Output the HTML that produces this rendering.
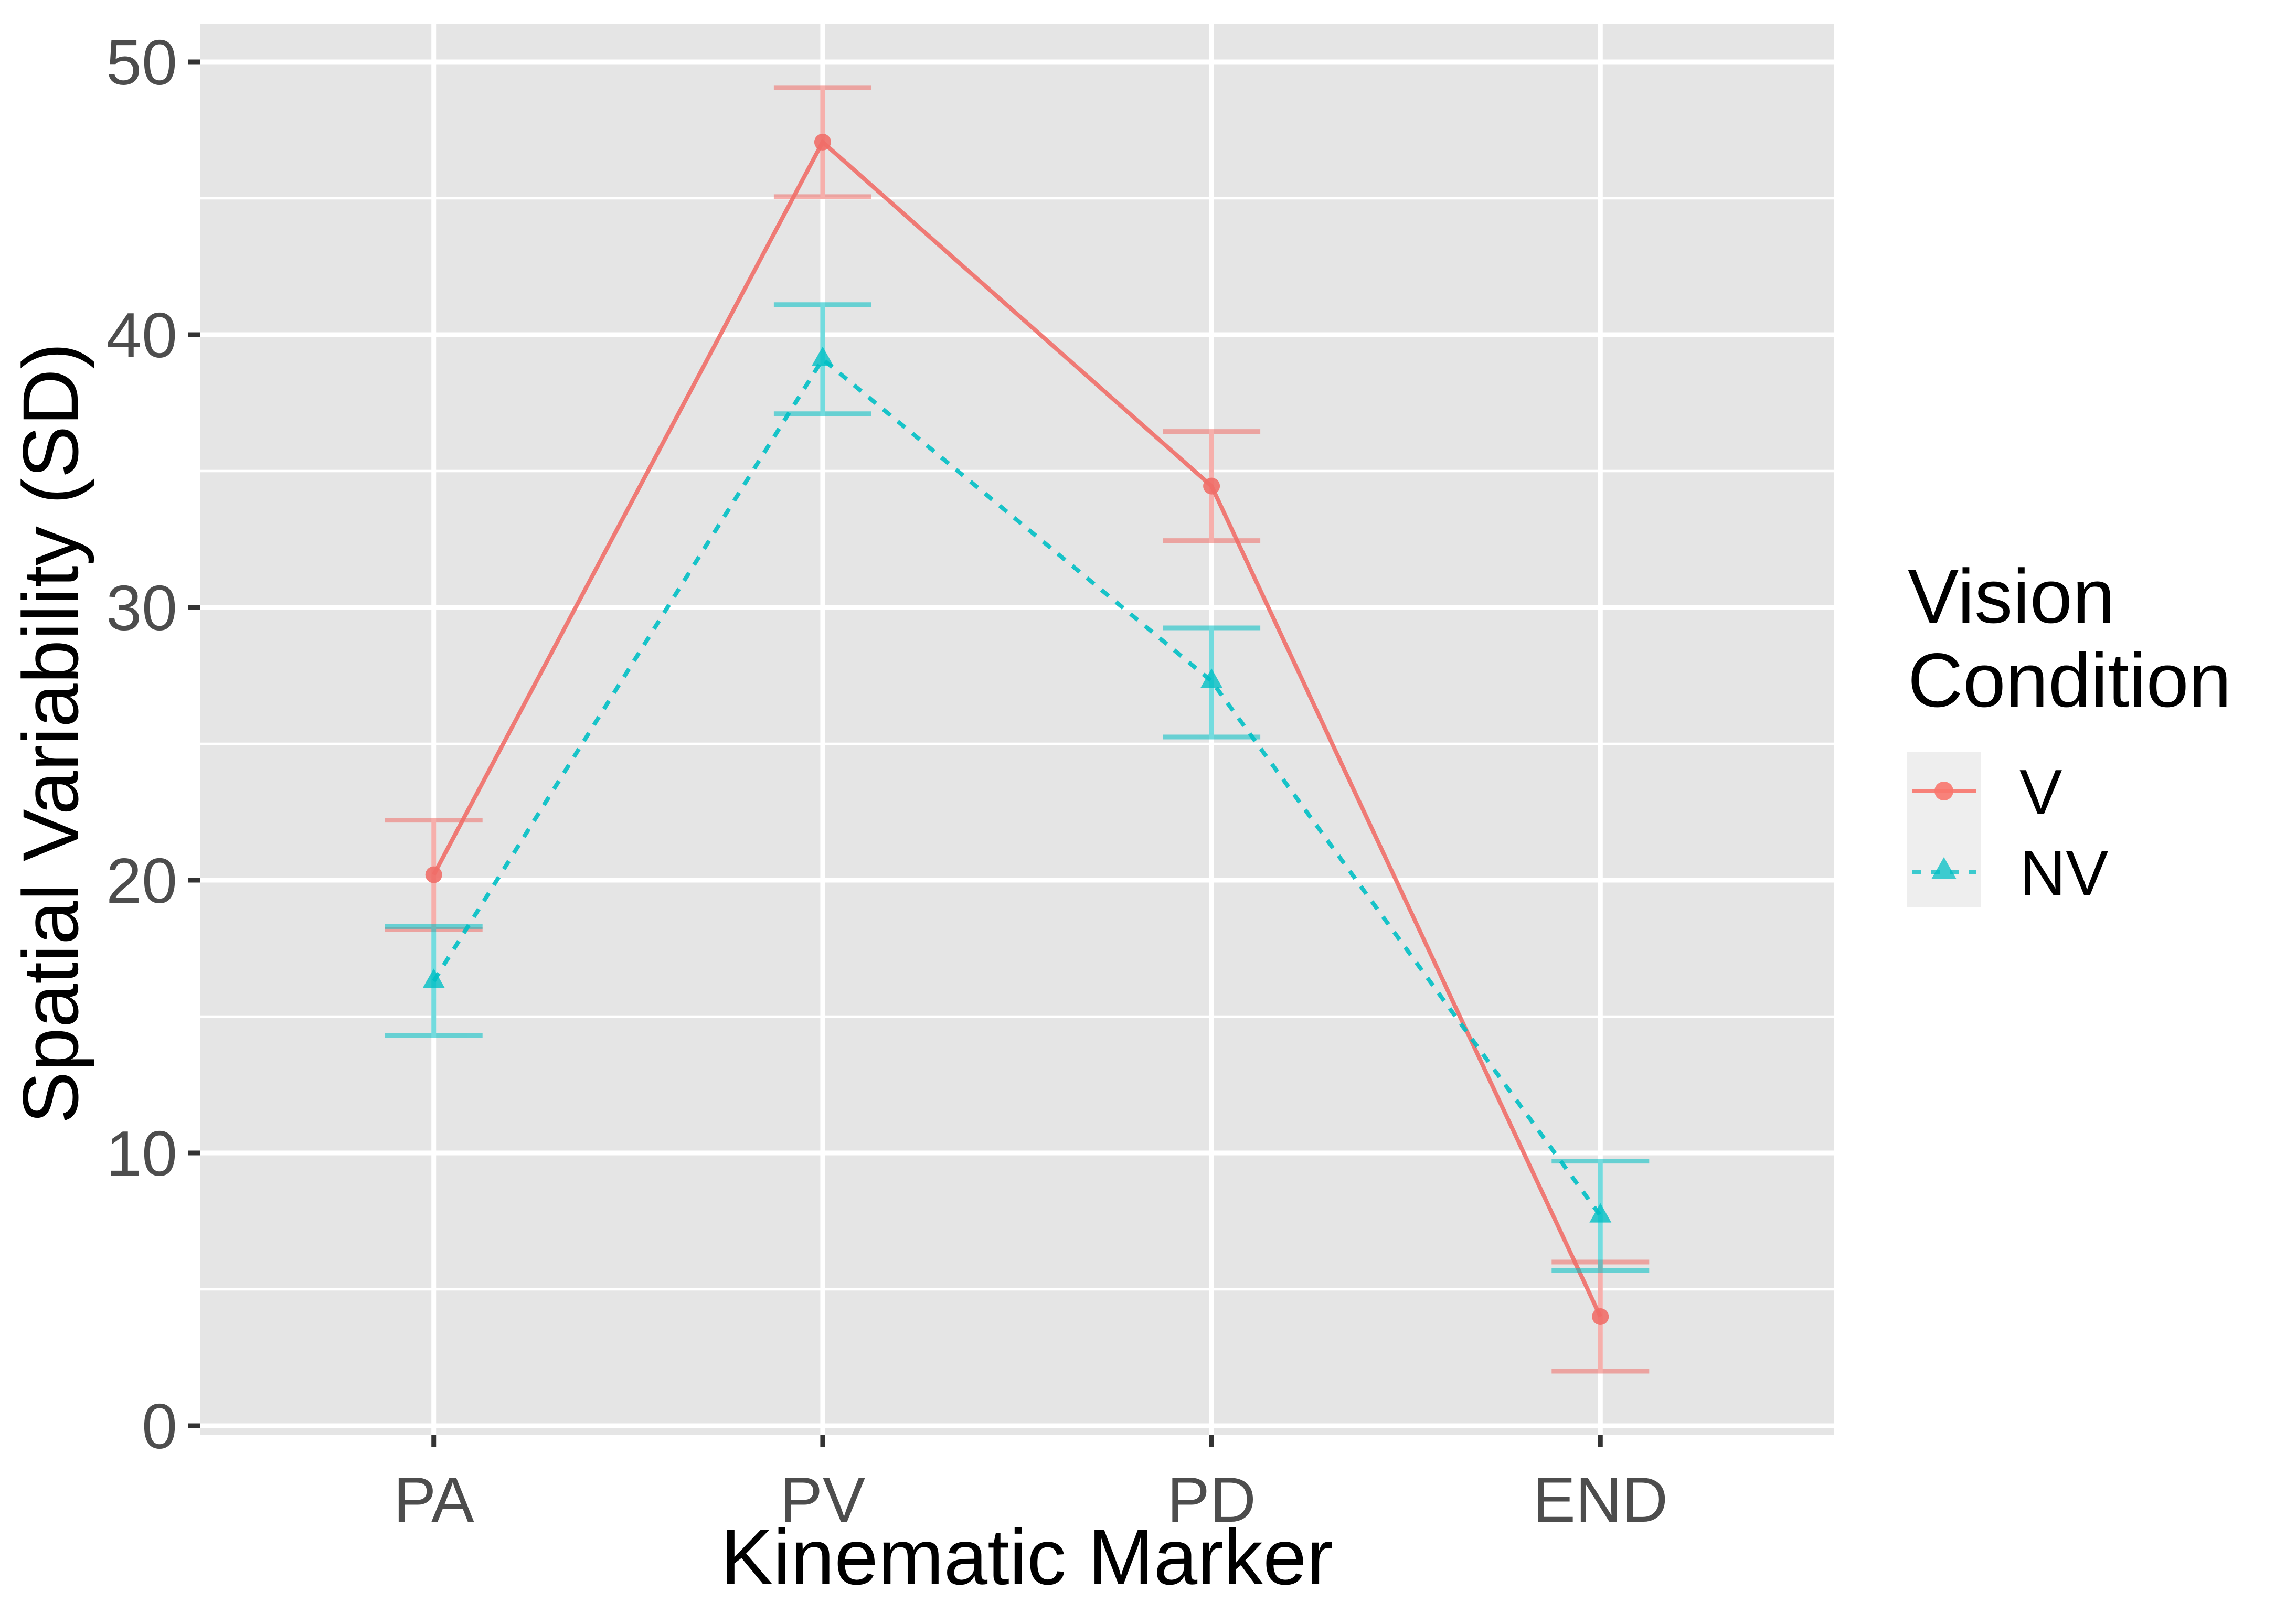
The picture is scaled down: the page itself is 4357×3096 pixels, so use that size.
<!DOCTYPE html>
<html><head><meta charset="utf-8"><style>
html,body{margin:0;padding:0;background:#fff}
svg{display:block;font-family:"Liberation Sans",Arial,sans-serif}
</style></head><body>
<svg id="chart" width="4357" height="3096" viewBox="0 0 4357 3096" xmlns="http://www.w3.org/2000/svg">
<rect x="0" y="0" width="4357" height="3096" fill="#fff"/>
<rect x="382" y="46" width="3113" height="2690" fill="#E5E5E5"/>
<g id="grid"></g><g id="axes"></g><g id="series"></g>
<text x="1957" y="3020" font-size="150" text-anchor="middle" fill="#000">Kinematic Marker</text>
<text transform="translate(148,1398) rotate(-90)" font-size="150" text-anchor="middle" fill="#000">Spatial Variability (SD)</text>
<g transform="translate(-36,-14)">
<text x="3672" y="1201" font-size="146" fill="#000">Vision</text>
<text x="3672" y="1361" font-size="146" fill="#000">Condition</text>
<rect x="3671" y="1448" width="141" height="296" fill="#EEEEEE"/>
<g>
<line x1="3680" y1="1522" x2="3802" y2="1522" stroke="#F8766D" stroke-width="8" opacity="0.9"/>
<circle cx="3741" cy="1522" r="18" fill="#F8766D" opacity="0.9"/>
<text x="3885" y="1566" font-size="122" fill="#000">V</text>
</g>
<g>
<line x1="3680" y1="1676" x2="3802" y2="1676" stroke="#00BFC4" stroke-width="8" stroke-dasharray="18,18" opacity="0.75"/>
<polygon points="3741,1648 3765,1690 3717,1690" fill="#00BFC4" opacity="0.75"/>
<text x="3885" y="1720" font-size="122" fill="#000">NV</text>
</g>
</g>
</svg>
<script>
const categories = ["PA","PV","PD","END"];
const vMean = [20.2, 47.06, 34.45, 4.0];
const vLow  = [18.2, 45.06, 32.45, 2.0];
const vHigh = [22.2, 49.06, 36.45, 6.0];
const nvMean = [16.3, 39.1, 27.3, 7.7];
const nvLow  = [14.3, 37.1, 25.25, 5.7];
const nvHigh = [18.3, 41.1, 29.25, 9.7];
const yTicks = [0,10,20,30,40,50];
const yMinor = [5,15,25,35,45];

const NS = "http://www.w3.org/2000/svg";
const PL=382, PR=3495, PT=46, PB=2736;
function xs(i){ return PL + (i+0.6)*(PR-PL)/(categories.length-1+1.2); }
function ys(v){ return 2718 - v*52; }
function mk(tag, attrs, parent){
  const e=document.createElementNS(NS,tag);
  for(const k in attrs) e.setAttribute(k,attrs[k]);
  parent.appendChild(e); return e;
}
const grid=document.getElementById('grid'), axes=document.getElementById('axes'), series=document.getElementById('series');
yMinor.forEach(v=>{
  const l=mk('line',{x1:PL,x2:PR,y1:ys(v),y2:ys(v),stroke:'#fff','stroke-width':4.5},grid);
  
  
});
yTicks.forEach(v=>{
  const l=mk('line',{x1:PL,x2:PR,y1:ys(v),y2:ys(v),stroke:'#fff','stroke-width':9},grid);
  
  
  const t=mk('line',{x1:PL-23,x2:PL,y1:ys(v),y2:ys(v),stroke:'#333','stroke-width':9},axes);
  
  
  const tx=mk('text',{x:338,y:ys(v)+43,'font-size':122,'text-anchor':'end',fill:'#4D4D4D'},axes);
  tx.textContent=v;
  
  
});
categories.forEach((c,i)=>{
  const l=mk('line',{x1:xs(i),x2:xs(i),y1:PT,y2:PB,stroke:'#fff','stroke-width':9},grid);
  
  
  const t=mk('line',{x1:xs(i),x2:xs(i),y1:PB,y2:PB+23,stroke:'#333','stroke-width':9},axes);
  
  
  const tx=mk('text',{x:xs(i),y:2901,'font-size':122,'text-anchor':'middle',fill:'#4D4D4D'},axes);
  tx.textContent=c;
  
  
});
function drawSeries(mean,low,high,color,dash,shape,name){
  mean.forEach((m,i)=>{
    const x=xs(i), hw=93;
    const g=mk('g',{stroke:color,'stroke-width':9,opacity:0.55,fill:'none'},series);
    
    
    mk('line',{x1:x,x2:x,y1:ys(low[i]),y2:ys(high[i])},g);
    mk('line',{x1:x-hw,x2:x+hw,y1:ys(low[i]),y2:ys(low[i])},g);
    mk('line',{x1:x-hw,x2:x+hw,y1:ys(high[i]),y2:ys(high[i])},g);
  });
  const pts=mean.map((m,i)=>xs(i)+','+ys(m)).join(' ');
  const pl=mk('polyline',{points:pts,fill:'none',stroke:color,'stroke-width':8,opacity:0.9},series);
  if(dash) pl.setAttribute('stroke-dasharray',dash);
  
  
  mean.forEach((m,i)=>{
    const x=xs(i), y=ys(m);
    let p;
    if(shape==='circle') p=mk('circle',{cx:x,cy:y,r:16,fill:color,opacity:0.9},series);
    else p=mk('polygon',{points:`${x},${y-24} ${x+21},${y+13} ${x-21},${y+13}`,fill:color,opacity:0.8},series);
    
    
  });
}
drawSeries(vMean,vLow,vHigh,'#F06E68',null,'circle','series-v');
drawSeries(nvMean,nvLow,nvHigh,'#00BFC4','18,18','triangle','series-nv');
</script>
</body></html>
